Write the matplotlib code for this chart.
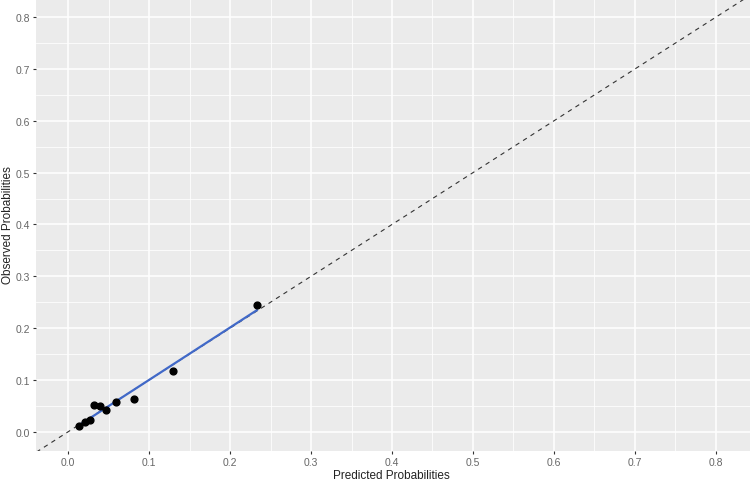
import numpy as np
import matplotlib.pyplot as plt

## ------------------
## Calibration data
## ------------------
predicted = [0.0128, 0.0202, 0.0263, 0.0321, 0.0392, 0.0470, 0.0585, 0.0812, 0.1300, 0.2330]
observed = [0.0116, 0.0187, 0.0232, 0.0508, 0.0489, 0.0419, 0.0566, 0.0632, 0.1180, 0.2450]
ticks = [0.0, 0.1, 0.2, 0.3, 0.4, 0.5, 0.6, 0.7, 0.8]

plt.rcParams['font.family'] = ['Liberation Sans', 'DejaVu Sans']

fig = plt.figure(figsize=(7.5, 4.85), dpi=100)
ax = fig.add_axes([36 / 750, 33 / 485, 714 / 750, 452 / 485])
ax.set_facecolor("#EBEBEB")
for s in ax.spines.values():
    s.set_visible(False)

ax.set_xlim(-0.0399, 0.8424)
ax.set_ylim(-0.0373, 0.8353)

## grid: major + minor, ggplot style
ax.set_xticks(ticks)
ax.set_yticks(ticks)
ax.set_xticks(np.arange(0.05, 0.85, 0.1), minor=True)
ax.set_yticks(np.arange(0.05, 0.85, 0.1), minor=True)
ax.grid(which="major", color="white", linewidth=1.1)
ax.grid(which="minor", color="white", linewidth=0.55)
ax.set_axisbelow(True)
ax.tick_params(which="minor", length=0)
ax.tick_params(which="major", length=2.5, width=0.8, color="#333333",
               labelcolor="#666666", labelsize=7.5, pad=2)
ax.set_xticklabels([f"{t:.1f}" for t in ticks])
ax.set_yticklabels([f"{t:.1f}" for t in ticks])

## reference diagonal
ax.plot([-0.1, 1.0], [-0.1, 1.0], linestyle=(0, (4, 4)), color="#333333", linewidth=0.8)

## linear fit
slope, intercept = np.polyfit(predicted, observed, 1)
xs = np.array([min(predicted), max(predicted)])
ax.plot(xs, slope * xs + intercept, color="#4169C8", linewidth=1.6)

ax.scatter(predicted, observed, s=24, color="black", zorder=3)

## axis titles placed by hand (the panel fills the figure)
fig.text(391 / 750, 1 - 476 / 485, "Predicted Probabilities", fontsize=8.5,
         color="#222222", ha="center", va="center")
fig.text(8 / 750, 1 - 225 / 485, "Observed Probabilities", fontsize=8.5,
         color="#222222", ha="center", va="center", rotation=90)

fig.savefig("out.png", dpi=100)
